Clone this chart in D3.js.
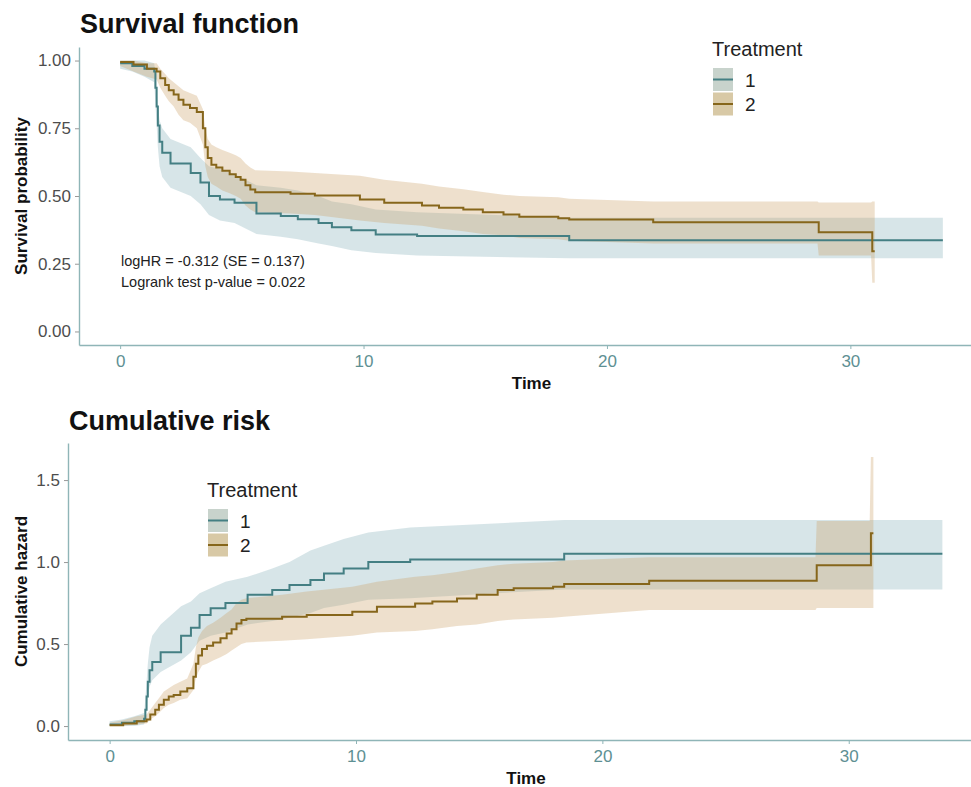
<!DOCTYPE html>
<html>
<head>
<meta charset="utf-8">
<script src="https://cdn.jsdelivr.net/npm/d3@7"></script>
<style>
  body { margin: 0; background: #fff; }
  svg { display: block; font-family: "Liberation Sans", Arial, Helvetica, sans-serif; }
</style>
</head>
<body>
<svg id="chart" width="971" height="787"></svg>
<script>
// ---- Data: Kaplan-Meier estimates with confidence bands, by treatment ----
const groups = ["1", "2"];

// Treatment 1
const time1     = [0, 0.5, 1.0, 1.4, 1.45, 1.5, 1.55, 1.62, 1.73, 2.07, 2.9, 3.3, 3.65, 4.1, 4.7, 5.6, 6.6, 7.3, 8.15, 8.7, 9.5, 10.5, 12.2, 18.45];
const surv1     = [0.99, 0.98, 0.97, 0.96, 0.90, 0.83, 0.76, 0.70, 0.66, 0.62, 0.585, 0.55, 0.50, 0.487, 0.475, 0.435, 0.426, 0.414, 0.40, 0.385, 0.374, 0.358, 0.352, 0.337];
const survLow1  = [0.97, 0.96, 0.94, 0.92, 0.84, 0.76, 0.68, 0.61, 0.57, 0.53, 0.50, 0.47, 0.43, 0.41, 0.40, 0.36, 0.35, 0.34, 0.325, 0.315, 0.30, 0.29, 0.28, 0.27];
const survHigh1 = [1.0, 1.0, 1.0, 0.99, 0.95, 0.89, 0.83, 0.78, 0.75, 0.71, 0.68, 0.64, 0.61, 0.60, 0.58, 0.54, 0.53, 0.52, 0.50, 0.48, 0.47, 0.45, 0.44, 0.42];
const haz1      = [0.01, 0.02, 0.03, 0.045, 0.10, 0.18, 0.27, 0.34, 0.39, 0.45, 0.55, 0.60, 0.677, 0.718, 0.75, 0.80, 0.83, 0.86, 0.89, 0.93, 0.96, 1.0, 1.015, 1.05];
const hazLow1   = [0.0, 0.0, 0.0, 0.01, 0.05, 0.11, 0.18, 0.24, 0.28, 0.33, 0.40, 0.45, 0.52, 0.55, 0.57, 0.62, 0.64, 0.66, 0.69, 0.72, 0.74, 0.77, 0.78, 0.833];
const hazHigh1  = [0.03, 0.04, 0.06, 0.08, 0.17, 0.27, 0.38, 0.48, 0.55, 0.62, 0.73, 0.76, 0.81, 0.84, 0.88, 0.91, 0.96, 1.0, 1.07, 1.10, 1.14, 1.18, 1.21, 1.256];
const end1 = 33.8;

// Treatment 2
const time2     = [0, 0.55, 1.1, 1.5, 1.65, 1.85, 2.0, 2.2, 2.4, 2.6, 2.87, 3.15, 3.4, 3.5, 3.6, 3.75, 3.95, 4.2, 4.5, 4.75, 4.95, 5.15, 5.35, 5.55, 7.0, 8.0, 9.85, 10.85, 12.4, 13.1, 14.1, 14.9, 15.75, 16.4, 18.0, 18.45, 21.9, 28.65, 28.7, 30.85, 30.9];
const surv2     = [0.995, 0.985, 0.97, 0.96, 0.935, 0.91, 0.89, 0.875, 0.855, 0.837, 0.825, 0.81, 0.75, 0.68, 0.64, 0.615, 0.605, 0.593, 0.58, 0.57, 0.56, 0.54, 0.524, 0.514, 0.508, 0.502, 0.487, 0.475, 0.465, 0.457, 0.45, 0.44, 0.432, 0.423, 0.418, 0.413, 0.403, 0.403, 0.366, 0.366, 0.296];
const survLow2  = [0.98, 0.96, 0.94, 0.93, 0.90, 0.87, 0.85, 0.83, 0.80, 0.78, 0.77, 0.75, 0.69, 0.61, 0.57, 0.545, 0.535, 0.52, 0.51, 0.50, 0.49, 0.465, 0.45, 0.44, 0.435, 0.43, 0.41, 0.40, 0.39, 0.38, 0.37, 0.36, 0.355, 0.345, 0.34, 0.335, 0.325, 0.325, 0.28, 0.28, 0.18];
const survHigh2 = [1.0, 1.0, 0.99, 0.99, 0.97, 0.95, 0.935, 0.92, 0.905, 0.89, 0.88, 0.87, 0.82, 0.75, 0.71, 0.69, 0.68, 0.67, 0.66, 0.65, 0.64, 0.62, 0.605, 0.595, 0.59, 0.585, 0.575, 0.56, 0.545, 0.535, 0.525, 0.515, 0.505, 0.50, 0.495, 0.49, 0.48, 0.48, 0.476, 0.476, 0.48];
const haz2      = [0.005, 0.015, 0.03, 0.04, 0.07, 0.10, 0.13, 0.16, 0.18, 0.19, 0.21, 0.23, 0.30, 0.38, 0.43, 0.47, 0.49, 0.51, 0.535, 0.565, 0.59, 0.626, 0.646, 0.655, 0.667, 0.677, 0.697, 0.727, 0.748, 0.76, 0.778, 0.80, 0.83, 0.84, 0.85, 0.866, 0.886, 0.886, 0.98, 0.98, 1.175];
const hazLow2   = [0.0, 0.0, 0.01, 0.015, 0.04, 0.06, 0.08, 0.11, 0.13, 0.14, 0.16, 0.17, 0.22, 0.29, 0.33, 0.37, 0.38, 0.40, 0.42, 0.44, 0.46, 0.48, 0.50, 0.51, 0.52, 0.53, 0.55, 0.57, 0.58, 0.59, 0.61, 0.62, 0.64, 0.65, 0.66, 0.667, 0.707, 0.707, 0.72, 0.72, 0.72];
const hazHigh2  = [0.02, 0.035, 0.06, 0.07, 0.10, 0.14, 0.17, 0.21, 0.23, 0.25, 0.27, 0.29, 0.38, 0.48, 0.54, 0.58, 0.61, 0.63, 0.66, 0.69, 0.71, 0.75, 0.77, 0.78, 0.80, 0.82, 0.85, 0.88, 0.91, 0.92, 0.94, 0.96, 0.98, 0.99, 1.0, 1.01, 1.03, 1.03, 1.25, 1.25, 1.64];
const end2 = 31.0;

// Axis ticks
const xTicks = [0, 10, 20, 30];
const survTicks = [0, 0.25, 0.5, 0.75, 1.0];
const hazTicks = [0, 0.5, 1.0, 1.5];

// Annotation
const statLines = ["logHR = -0.312 (SE = 0.137)", "Logrank test p-value = 0.022"];

// ---- Styling ----
const lineColor = { "1": "#447f83", "2": "#86661b" };
const bandColor = { "1": "#6d9fa9", "2": "#c9a063" };
const bandAlpha = { "1": 0.27, "2": 0.32 };
const keyColor  = { "1": "#c8d3cc", "2": "#d8c9a6" };
const axisColor = "#8fb5b7";
const xTickText = "#5e9093";

const svg = d3.select("#chart");

function buildSeries(time, est, lo, hi, end) {
  const pts = time.map((t, i) => ({ t, v: est[i], lo: lo[i], hi: hi[i] }));
  const last = pts[pts.length - 1];
  pts.push({ t: end, v: last.v, lo: last.lo, hi: last.hi });
  return pts;
}

const survData = {
  "1": buildSeries(time1, surv1, survLow1, survHigh1, end1),
  "2": buildSeries(time2, surv2, survLow2, survHigh2, end2)
};
const hazData = {
  "1": buildSeries(time1, haz1, hazLow1, hazHigh1, end1),
  "2": buildSeries(time2, haz2, hazLow2, hazHigh2, end2)
};

function drawPanel(opt) {
  const x = d3.scaleLinear().domain([-1.69, 35.49]).range([opt.left, 984]);
  const y = d3.scaleLinear().domain(opt.yDomain).range([opt.bottom, opt.top]);
  const g = svg.append("g");

  // Confidence bands (ribbon joins the band limits at each time point)
  const area = d3.area().curve(d3.curveLinear)
    .x(d => x(d.t)).y0(d => y(d.lo)).y1(d => y(d.hi));
  groups.forEach(k => {
    g.append("path").datum(opt.data[k]).attr("d", area)
      .attr("fill", bandColor[k]).attr("fill-opacity", bandAlpha[k]);
  });
  // Step estimates
  const line = d3.line().curve(d3.curveStepAfter).x(d => x(d.t)).y(d => y(d.v));
  groups.forEach(k => {
    g.append("path").datum(opt.data[k]).attr("d", line)
      .attr("fill", "none").attr("stroke", lineColor[k]).attr("stroke-width", 2);
  });

  // Axes
  const ax = g.append("g").attr("transform", `translate(0,${opt.bottom})`)
    .call(d3.axisBottom(x).tickValues(xTicks).tickSize(4).tickSizeOuter(0).tickPadding(6).tickFormat(d3.format("d")));
  ax.select(".domain").attr("stroke", axisColor).attr("stroke-width", 1.4);
  ax.selectAll(".tick line").attr("stroke", axisColor);
  ax.selectAll(".tick text").attr("fill", xTickText).attr("font-size", 17)
    .attr("font-family", "Liberation Sans, Arial, sans-serif");

  const ay = g.append("g").attr("transform", `translate(${opt.left},0)`)
    .call(d3.axisLeft(y).tickValues(opt.yTicks).tickSize(4).tickSizeOuter(0).tickPadding(4).tickFormat(d3.format(opt.fmt)));
  ay.select(".domain").attr("stroke", axisColor).attr("stroke-width", 1.4);
  ay.selectAll(".tick line").attr("stroke", "#999");
  ay.selectAll(".tick text").attr("fill", "#4d4d4d").attr("font-size", 17)
    .attr("font-family", "Liberation Sans, Arial, sans-serif");

  // Titles
  g.append("text").attr("x", opt.left + 1).attr("y", opt.titleY)
    .attr("font-size", 27).attr("font-weight", "bold").attr("fill", "#111").text(opt.title);
  g.append("text").attr("x", (opt.left + 984) / 2).attr("y", opt.bottom + 44)
    .attr("text-anchor", "middle").attr("font-size", 17).attr("font-weight", "bold")
    .attr("fill", "#111").text("Time");
  g.append("text").attr("transform", `translate(27,${(opt.top + opt.bottom) / 2}) rotate(-90)`)
    .attr("text-anchor", "middle").attr("font-size", 17).attr("font-weight", "bold")
    .attr("fill", "#111").text(opt.yLabel);

  // Legend
  const lg = g.append("g").attr("transform", `translate(${opt.legend[0]},${opt.legend[1]})`);
  lg.append("text").attr("x", 0).attr("y", 0).attr("font-size", 20).attr("fill", "#222").text("Treatment");
  groups.forEach((k, i) => {
    const ky = 12 + i * 24.5;
    lg.append("rect").attr("x", 1).attr("y", ky).attr("width", 20).attr("height", 23)
      .attr("fill", keyColor[k]);
    lg.append("line").attr("x1", 1).attr("x2", 21).attr("y1", ky + 11.5).attr("y2", ky + 11.5)
      .attr("stroke", lineColor[k]).attr("stroke-width", 2);
    lg.append("text").attr("x", 33).attr("y", ky + 18.5).attr("font-size", 19)
      .attr("fill", "#222").text(k);
  });
  return { x, y, g };
}

const survPanel = drawPanel({
  left: 79, top: 47, bottom: 345, yDomain: [-0.05, 1.05], yTicks: survTicks, fmt: ".2f",
  data: survData, title: "Survival function", titleY: 33, yLabel: "Survival probability",
  legend: [712, 56]
});

drawPanel({
  left: 68, top: 443, bottom: 740, yDomain: [-0.085, 1.726], yTicks: hazTicks, fmt: ".1f",
  data: hazData, title: "Cumulative risk", titleY: 430, yLabel: "Cumulative hazard",
  legend: [207, 497]
});

// Hazard-ratio and log-rank annotation
survPanel.g.append("g").selectAll("text").data(statLines).join("text")
  .attr("x", 121).attr("y", (d, i) => 266 + i * 21)
  .attr("font-size", 14.5).attr("fill", "#222").text(d => d);
</script>
</body>
</html>
